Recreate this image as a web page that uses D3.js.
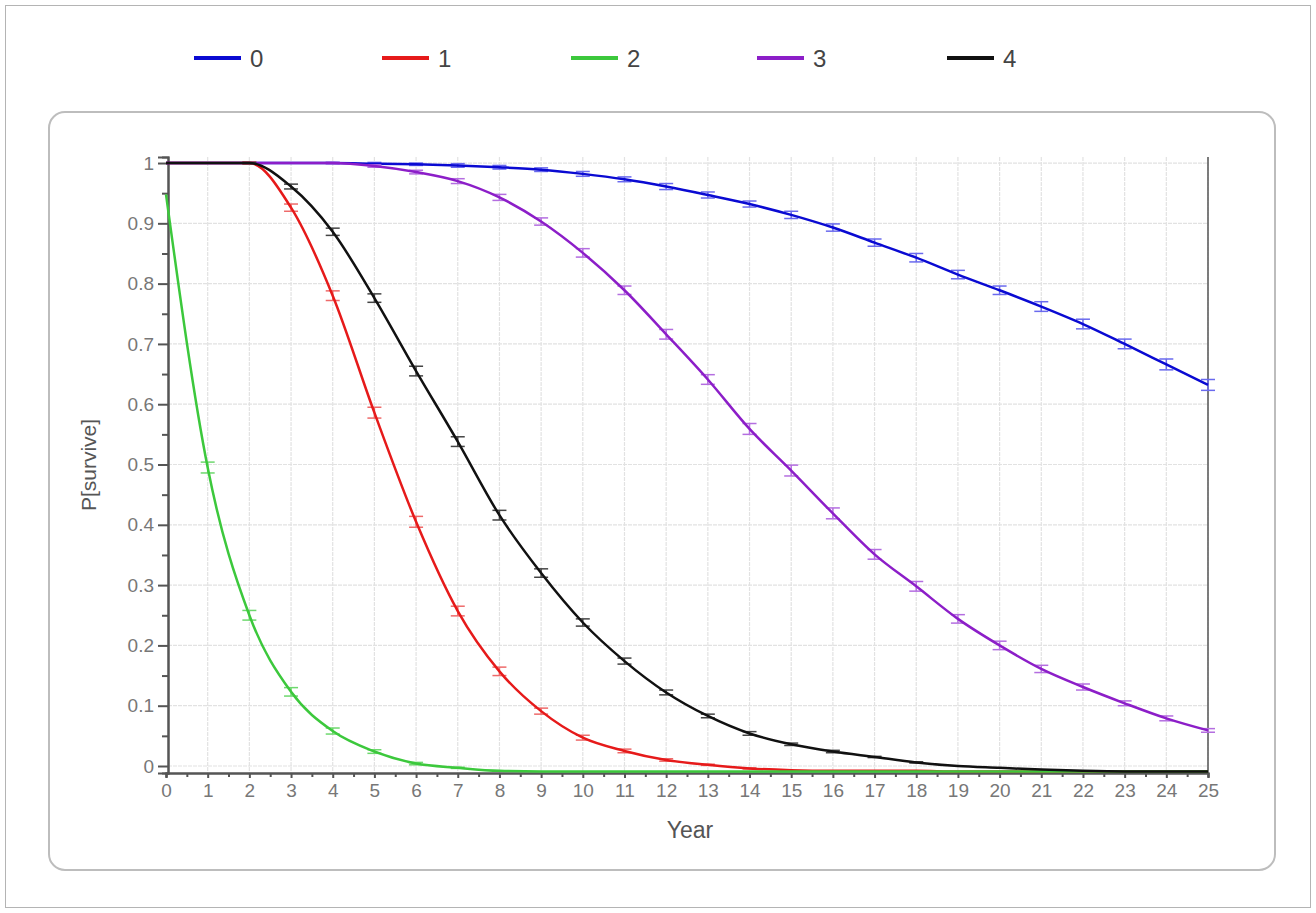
<!DOCTYPE html>
<html>
<head>
    <meta charset="utf-8">
    <title>Survival curves</title>
    <script src="https://cdnjs.cloudflare.com/ajax/libs/d3/7.8.5/d3.min.js"></script>
    <style>
        body { margin: 0; background: #fff; font-family: Arial, "Liberation Sans", sans-serif; }
    </style>
</head>
<body>
<div id="chart"></div>

<script type="text/javascript">
    // ---- data ----
    var years = d3.range(0, 26);
    var seriesNames = ["0", "1", "2", "3", "4"];

    var s0 = [1, 1, 1, 1, 1, 0.999, 0.998, 0.996, 0.993, 0.989, 0.982, 0.973, 0.961, 0.947, 0.932, 0.914, 0.893, 0.868, 0.843, 0.815, 0.789, 0.762, 0.733, 0.700, 0.666, 0.632];
    var s1 = [1, 1, 1, 0.926, 0.780, 0.586, 0.405, 0.257, 0.157, 0.091, 0.047, 0.025, 0.010, 0.002, -0.004, -0.007, -0.008, -0.008, -0.008, -0.009, -0.009, -0.009, -0.009, -0.009, -0.009, -0.009];
    var s2 = [0.948, 0.495, 0.250, 0.123, 0.058, 0.024, 0.004, -0.003, -0.008, -0.009, -0.009, -0.009, -0.009, -0.009, -0.009, -0.009, -0.009, -0.009, -0.009, -0.009, -0.009, -0.009, -0.009, -0.009, -0.009, -0.009];
    var s3 = [1, 1, 1, 1, 1, 0.995, 0.985, 0.970, 0.943, 0.903, 0.851, 0.789, 0.716, 0.641, 0.559, 0.490, 0.419, 0.351, 0.298, 0.244, 0.200, 0.161, 0.131, 0.104, 0.079, 0.059];
    var s4 = [1, 1, 1, 0.961, 0.886, 0.776, 0.655, 0.538, 0.416, 0.320, 0.238, 0.174, 0.122, 0.083, 0.054, 0.036, 0.024, 0.015, 0.006, 0.000, -0.003, -0.006, -0.008, -0.009, -0.009, -0.009];

    var e0 = [0, 0, 0, 0, 0.001, 0.002, 0.002, 0.003, 0.003, 0.003, 0.004, 0.004, 0.005, 0.005, 0.005, 0.006, 0.006, 0.006, 0.007, 0.007, 0.007, 0.008, 0.008, 0.008, 0.009, 0.009];
    var e1 = [0, 0, 0.002, 0.006, 0.008, 0.009, 0.009, 0.008, 0.007, 0.005, 0.004, 0.003, 0.002, 0.001, 0.001, 0, 0, 0, 0, 0, 0, 0, 0, 0, 0, 0];
    var e2 = [0, 0.009, 0.008, 0.007, 0.005, 0.003, 0.002, 0.001, 0, 0, 0, 0, 0, 0, 0, 0, 0, 0, 0, 0, 0, 0, 0, 0, 0, 0];
    var e3 = [0, 0, 0, 0, 0.001, 0.002, 0.003, 0.004, 0.005, 0.006, 0.007, 0.007, 0.008, 0.008, 0.009, 0.009, 0.009, 0.008, 0.008, 0.007, 0.007, 0.006, 0.005, 0.004, 0.004, 0.003];
    var e4 = [0, 0, 0.001, 0.004, 0.006, 0.007, 0.008, 0.008, 0.008, 0.007, 0.006, 0.005, 0.004, 0.003, 0.003, 0.002, 0.002, 0.001, 0.001, 0, 0, 0, 0, 0, 0, 0];

    var yTickValues = [0, 0.1, 0.2, 0.3, 0.4, 0.5, 0.6, 0.7, 0.8, 0.9, 1];
    var yTickLabels = ["0", "0.1", "0.2", "0.3", "0.4", "0.5", "0.6", "0.7", "0.8", "0.9", "1"];

    var allSeries = [s0, s1, s2, s3, s4];
    var allErrors = [e0, e1, e2, e3, e4];

    // ---- styles ----
    var colors = ["#0a0ad2", "#e61a1a", "#3cc83c", "#8c1ec8", "#111111"];
    var barColors = ["#6a6aee", "#ee6a6a", "#6ed86e", "#b46ee0", "#444444"];

    var width = 1316,
        height = 913;

    var svg = d3.select("#chart").append("svg")
        .attr("width", width)
        .attr("height", height);

    // outer frame + rounded panel
    svg.append("rect")
        .attr("x", 5.5).attr("y", 5.5)
        .attr("width", 1305).attr("height", 902)
        .attr("fill", "none").attr("stroke", "#b4b4b4").attr("stroke-width", 1);

    svg.append("rect")
        .attr("x", 49).attr("y", 112)
        .attr("width", 1226).attr("height", 758)
        .attr("rx", 16).attr("ry", 16)
        .attr("fill", "#fff").attr("stroke", "#bdbdbd").attr("stroke-width", 2);

    var x = d3.scaleLinear().domain([0, 25]).range([166, 1208]);
    var y = d3.scaleLinear().domain([-0.0116, 1.01]).range([773, 157]);
    var axisX = 168;

    ////////////////////////////////////////////////////////////
    ////////////////////// Grid lines //////////////////////////
    ////////////////////////////////////////////////////////////
    var grid = svg.append("g");

    grid.selectAll(".vgrid")
        .data(years.slice(1))
        .enter().append("line")
        .attr("class", "vgrid")
        .attr("x1", function(d) { return x(d); })
        .attr("x2", function(d) { return x(d); })
        .attr("y1", y.range()[1])
        .attr("y2", y.range()[0])
        .attr("stroke", "#e2e2e2")
        .attr("stroke-width", 1.2)
        .attr("stroke-dasharray", "4,1");

    grid.selectAll(".hgrid")
        .data(yTickValues)
        .enter().append("line")
        .attr("class", "hgrid")
        .attr("x1", axisX)
        .attr("x2", x(25))
        .attr("y1", function(d) { return y(d); })
        .attr("y2", function(d) { return y(d); })
        .attr("stroke", "#e2e2e2")
        .attr("stroke-width", 1.2)
        .attr("stroke-dasharray", "4,1");

    ////////////////////////////////////////////////////////////
    //////////////////////// Axes //////////////////////////////
    ////////////////////////////////////////////////////////////
    var yAxis = d3.axisLeft(y)
        .tickValues(yTickValues)
        .tickFormat(function(d, i) { return yTickLabels[i]; })
        .tickSize(10)
        .tickPadding(4);

    var yMinor = d3.axisLeft(y)
        .tickValues(yTickValues.slice(0, -1).map(function(d) { return d + 0.05; }))
        .tickFormat("")
        .tickSize(6);

    var xAxis = d3.axisBottom(x)
        .tickValues(years)
        .tickFormat(d3.format("d"))
        .tickSize(5)
        .tickPadding(6);

    var xMinor = d3.axisBottom(x)
        .tickValues(years.slice(0, -1).map(function(d) { return d + 0.5; }))
        .tickFormat("")
        .tickSize(4);

    function styleAxis(g, fontSize) {
        g.select(".domain").attr("stroke", "#555").attr("stroke-width", 2);
        g.selectAll(".tick line").attr("stroke", "#555").attr("stroke-width", 2);
        g.selectAll(".tick text")
            .attr("fill", "#777")
            .style("font-size", fontSize + "px")
            .style("font-family", "Arial, 'Liberation Sans', sans-serif");
    }

    svg.append("g").attr("transform", "translate(" + axisX + ",0)").call(yMinor).call(styleAxis, 19);
    svg.append("g").attr("transform", "translate(" + axisX + ",0)").call(yAxis).call(styleAxis, 19);
    svg.append("g").attr("transform", "translate(0," + y.range()[0] + ")").call(xMinor).call(styleAxis, 19);
    svg.append("g").attr("transform", "translate(0," + y.range()[0] + ")").call(xAxis).call(styleAxis, 19);

    // right border line of the plot
    svg.append("line")
        .attr("x1", x(25)).attr("x2", x(25))
        .attr("y1", y.range()[1]).attr("y2", y.range()[0])
        .attr("stroke", "#555").attr("stroke-width", 1.5);

    svg.append("text")
        .attr("x", 690).attr("y", 838)
        .attr("text-anchor", "middle")
        .attr("fill", "#555")
        .style("font-size", "23px")
        .text("Year");

    svg.append("text")
        .attr("transform", "translate(96,465) rotate(-90)")
        .attr("text-anchor", "middle")
        .attr("fill", "#555")
        .style("font-size", "21px")
        .text("P[survive]");

    ////////////////////////////////////////////////////////////
    //////////////////// Lines + error bars ////////////////////
    ////////////////////////////////////////////////////////////
    var line = d3.line()
        .x(function(d, i) { return x(years[i]); })
        .y(function(d) { return y(d); })
        .curve(d3.curveMonotoneX);

    var capW = 7;

    allSeries.forEach(function(vals, k) {
        var g = svg.append("g").attr("class", "series-" + k);

        var bars = g.selectAll(".ebar")
            .data(vals.map(function(v, i) { return { x: years[i], v: v, e: allErrors[k][i] }; })
                .filter(function(d) { return d.e > 0; }))
            .enter().append("g")
            .attr("class", "ebar");

        bars.append("line")
            .attr("x1", function(d) { return x(d.x); })
            .attr("x2", function(d) { return x(d.x); })
            .attr("y1", function(d) { return y(d.v + d.e); })
            .attr("y2", function(d) { return y(d.v - d.e); });

        bars.append("line")
            .attr("x1", function(d) { return x(d.x) - capW; })
            .attr("x2", function(d) { return x(d.x) + capW; })
            .attr("y1", function(d) { return y(d.v + d.e); })
            .attr("y2", function(d) { return y(d.v + d.e); });

        bars.append("line")
            .attr("x1", function(d) { return x(d.x) - capW; })
            .attr("x2", function(d) { return x(d.x) + capW; })
            .attr("y1", function(d) { return y(d.v - d.e); })
            .attr("y2", function(d) { return y(d.v - d.e); });

        bars.selectAll("line")
            .attr("stroke", barColors[k])
            .attr("stroke-width", 1.5);

        g.append("path")
            .datum(vals)
            .attr("d", line)
            .attr("fill", "none")
            .attr("stroke", colors[k])
            .attr("stroke-width", 2.5);
    });

    ////////////////////////////////////////////////////////////
    /////////////////////// Legend /////////////////////////////
    ////////////////////////////////////////////////////////////
    var legendX = [194, 382, 571, 757, 947];

    var legend = svg.selectAll(".legend")
        .data(seriesNames)
        .enter().append("g")
        .attr("class", "legend")
        .attr("transform", function(d, i) { return "translate(" + legendX[i] + ",58)"; });

    legend.append("line")
        .attr("x1", 0).attr("x2", 47)
        .attr("y1", 0).attr("y2", 0)
        .attr("stroke", function(d, i) { return colors[i]; })
        .attr("stroke-width", 4);

    legend.append("text")
        .attr("x", 56)
        .attr("y", 9)
        .attr("fill", "#444")
        .style("font-size", "24px")
        .text(function(d) { return d; });
</script>
</body>
</html>
